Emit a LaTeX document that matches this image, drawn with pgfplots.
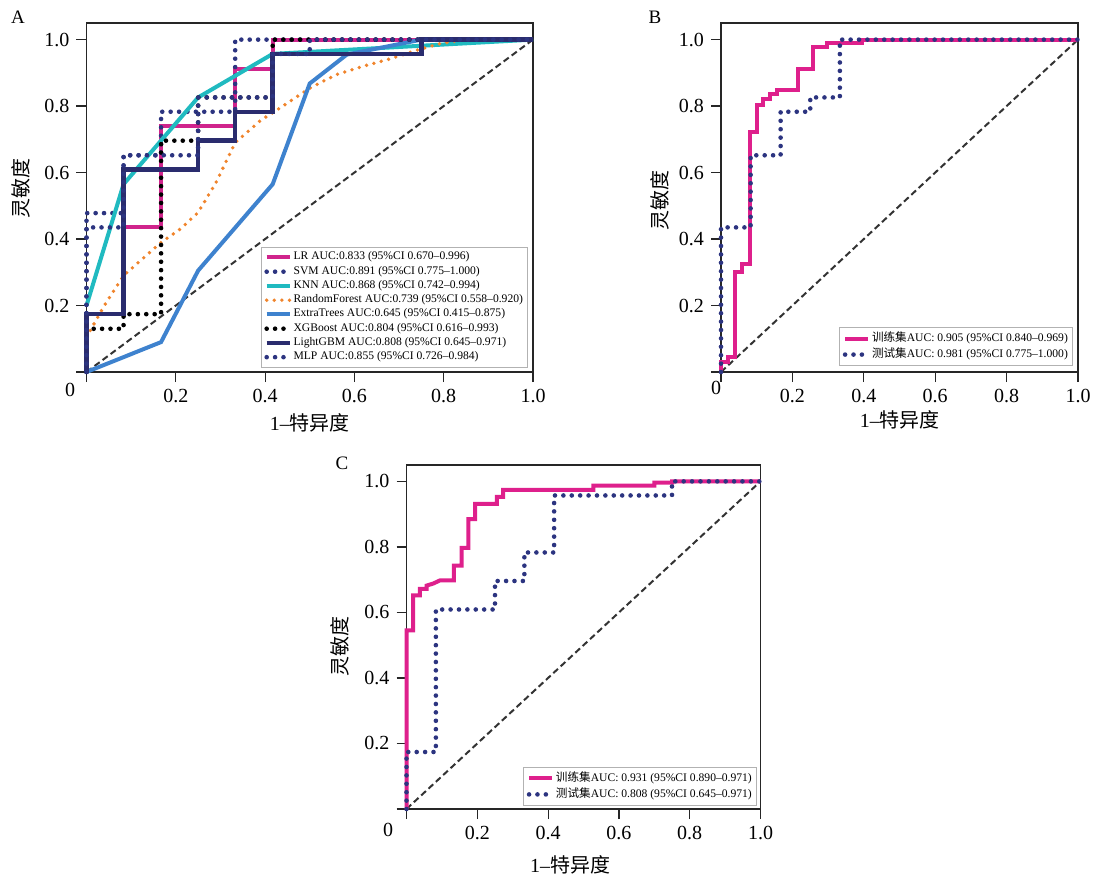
\documentclass[border=0pt]{standalone}
\usepackage{pgfplots}
\pgfplotsset{compat=1.18}
\usepackage{fontspec}
\setmainfont{Liberation Serif}
\newfontfamily\cjk{Noto Sans CJK SC}
\definecolor{lrmag}{RGB}{208,36,140}
\definecolor{navyd}{RGB}{44,52,128}
\definecolor{knncyan}{RGB}{32,186,192}
\definecolor{rforange}{RGB}{240,132,44}
\definecolor{etblue}{RGB}{62,130,206}
\definecolor{lgbm}{RGB}{42,44,110}
\definecolor{trainmag}{RGB}{222,32,140}
\pgfplotsset{
  rocaxis/.style={
    scale only axis,
    xmin=0, xmax=1, ymin=0, ymax=1.05,
    clip=false,
    tick pos=left, tick align=outside, major tick length=5pt,
    xtick={0,0.2,0.4,0.6,0.8,1}, xticklabels={,0.2,0.4,0.6,0.8,1.0},
    ytick={0,0.2,0.4,0.6,0.8,1}, yticklabels={,0.2,0.4,0.6,0.8,1.0},
    axis line style={black!85, line width=0.6pt},
    every tick/.style={black!85, line width=0.6pt},
    ticklabel style={font=\fontsize{10}{12}\selectfont},
    /pgf/number format/assume math mode=true,
    label style={font=\fontsize{10}{12}\selectfont},
    xlabel={1–{\cjk 特异度}},
    ylabel={{\cjk 灵敏度}},
    legend cell align=left,
    legend image code/.code={\draw[#1] (0pt,0pt) -- (11.5pt,0pt);},
  },
  solidln/.style={line width=2pt},
  dotln/.style={line width=2.3pt, dash pattern=on 0pt off 4.2pt, line cap=round},
  diag/.style={black!80, line width=1pt, dash pattern=on 3.2pt off 1.8pt, forget plot},
}
\begin{document}
\begin{tikzpicture}
\path[use as bounding box] (0,0) rectangle (548pt,439.5pt);
\node[font=\fontsize{9.5}{11}\selectfont] at (9pt,431pt) {A};
\node[font=\fontsize{9.5}{11}\selectfont] at (327.5pt,431pt) {B};
\node[font=\fontsize{9.5}{11}\selectfont] at (171pt,208pt) {C};

% ---------------- Panel A ----------------
\begin{axis}[rocaxis,
  at={(43.25pt,253.5pt)}, anchor=south west,
  width=223.25pt, height=174.5pt,
  xlabel style={at={(axis description cs:0.5,-0.146)}, anchor=center},
  ylabel style={at={(axis description cs:-0.147,0.527)}, anchor=center, rotate=0},
  legend style={at={(0.989,0.012)}, anchor=south east,
    font=\fontsize{5.8}{6.8}\selectfont, draw=black!30, line width=0.5pt,
    inner sep=1.5pt, nodes={inner sep=0.8pt}, row sep=0pt},
]
\addplot[diag] coordinates {(0,0)(1,1)};
\addplot[lrmag, solidln] coordinates {(0,0)(0,0.174)(0.083,0.174)(0.083,0.435)(0.167,0.435)(0.167,0.739)(0.333,0.739)(0.333,0.913)(0.417,0.913)(0.417,1)(1,1)};
\addlegendentry{LR AUC:0.833 (95\%CI 0.670–0.996)}
\addplot[navyd, dotln] coordinates {(0,0)(0,0.478)(0.083,0.478)(0.083,0.652)(0.167,0.652)(0.167,0.783)(0.333,0.783)(0.333,1)(1,1)};
\addlegendentry{SVM AUC:0.891 (95\%CI 0.775–1.000)}
\addplot[knncyan, solidln] coordinates {(0,0.2)(0.083,0.565)(0.25,0.826)(0.417,0.957)(1,1)};
\addlegendentry{KNN AUC:0.868 (95\%CI 0.742–0.994)}
\addplot[rforange, line width=1.9pt, dash pattern=on 0pt off 3.8pt, line cap=round] coordinates {(0,0.105)(0.04,0.2)(0.083,0.29)(0.125,0.34)(0.167,0.39)(0.21,0.43)(0.25,0.48)(0.29,0.57)(0.333,0.69)(0.39,0.757)(0.433,0.794)(0.5,0.854)(0.56,0.895)(0.62,0.92)(0.68,0.942)(0.732,0.965)(0.792,0.988)(0.85,1)(1,1)};
\addlegendentry{RandomForest AUC:0.739 (95\%CI 0.558–0.920)}
\addplot[etblue, solidln] coordinates {(0,0)(0.167,0.09)(0.25,0.305)(0.417,0.565)(0.5,0.868)(0.583,0.955)(0.75,1)(1,1)};
\addlegendentry{ExtraTrees AUC:0.645 (95\%CI 0.415–0.875)}
\addplot[black, dotln] coordinates {(0,0)(0,0.13)(0.083,0.13)(0.083,0.174)(0.167,0.174)(0.167,0.696)(0.25,0.696)(0.25,0.826)(0.417,0.826)(0.417,1)(1,1)};
\addlegendentry{XGBoost AUC:0.804 (95\%CI 0.616–0.993)}
\addplot[lgbm, line width=2.2pt] coordinates {(0,0)(0,0.174)(0.083,0.174)(0.083,0.609)(0.25,0.609)(0.25,0.696)(0.333,0.696)(0.333,0.783)(0.417,0.783)(0.417,0.957)(0.75,0.957)(0.75,1)(1,1)};
\addlegendentry{LightGBM AUC:0.808 (95\%CI 0.645–0.971)}
\addplot[navyd, dotln] coordinates {(0,0)(0,0.435)(0.083,0.435)(0.083,0.652)(0.25,0.652)(0.25,0.826)(0.417,0.826)(0.417,0.957)(0.5,0.957)(0.5,1)(1,1)};
\addlegendentry{MLP AUC:0.855 (95\%CI 0.726–0.984)}
\node[font=\fontsize{10}{12}\selectfont] at (axis cs:0,0) [xshift=-8.25pt, yshift=-9pt] {0};
\end{axis}

% ---------------- Panel B ----------------
\begin{axis}[rocaxis,
  at={(360.5pt,253.5pt)}, anchor=south west,
  width=178.5pt, height=174.5pt,
  xlabel style={at={(axis description cs:0.501,-0.138)}, anchor=center},
  ylabel style={at={(axis description cs:-0.171,0.49)}, anchor=center},
  legend style={at={(0.986,0.017)}, anchor=south east,
    font=\fontsize{5.8}{6.8}\selectfont, draw=black!30, line width=0.5pt,
    inner sep=1.5pt, nodes={inner sep=0.8pt}, row sep=0pt},
]
\addplot[diag] coordinates {(0,0)(1,1)};
\addplot[trainmag, solidln] coordinates {(0,0)(0,0.03)(0.02,0.03)(0.02,0.045)(0.04,0.045)(0.04,0.3)(0.058,0.3)(0.058,0.326)(0.081,0.326)(0.081,0.722)(0.1,0.722)(0.1,0.802)(0.119,0.802)(0.119,0.822)(0.137,0.822)(0.137,0.837)(0.156,0.837)(0.156,0.847)(0.217,0.847)(0.217,0.912)(0.259,0.912)(0.259,0.979)(0.296,0.979)(0.296,0.989)(0.394,0.989)(0.394,1)(1,1)};
\addlegendentry{{\cjk 训练集}AUC: 0.905 (95\%CI 0.840–0.969)}
\addplot[navyd, dotln] coordinates {(0,0)(0,0.435)(0.083,0.435)(0.083,0.652)(0.167,0.652)(0.167,0.783)(0.25,0.783)(0.25,0.826)(0.333,0.826)(0.333,1)(1,1)};
\addlegendentry{{\cjk 测试集}AUC: 0.981 (95\%CI 0.775–1.000)}
\node[font=\fontsize{10}{12}\selectfont] at (axis cs:0,0) [xshift=-2.5pt, yshift=-8pt] {0};
\end{axis}

% ---------------- Panel C ----------------
\begin{axis}[rocaxis,
  at={(203.25pt,35pt)}, anchor=south west,
  width=177pt, height=172pt,
  xlabel style={at={(axis description cs:0.462,-0.163)}, anchor=center},
  ylabel style={at={(axis description cs:-0.188,0.471)}, anchor=center},
  legend style={at={(0.99,0.009)}, anchor=south east,
    font=\fontsize{5.8}{6.8}\selectfont, draw=black!30, line width=0.5pt,
    inner sep=1.5pt, nodes={inner sep=0.8pt}, row sep=0pt},
]
\addplot[diag] coordinates {(0,0)(1,1)};
\addplot[trainmag, solidln] coordinates {(0,0)(0,0.545)(0.019,0.545)(0.019,0.652)(0.038,0.652)(0.038,0.672)(0.057,0.672)(0.057,0.682)(0.075,0.688)(0.095,0.698)(0.134,0.698)(0.134,0.743)(0.156,0.743)(0.156,0.797)(0.175,0.797)(0.175,0.885)(0.194,0.885)(0.194,0.931)(0.255,0.931)(0.255,0.953)(0.273,0.953)(0.273,0.974)(0.528,0.974)(0.528,0.987)(0.7,0.987)(0.7,0.996)(0.75,0.996)(0.75,1)(1,1)};
\addlegendentry{{\cjk 训练集}AUC: 0.931 (95\%CI 0.890–0.971)}
\addplot[navyd, dotln] coordinates {(0,0)(0,0.174)(0.083,0.174)(0.083,0.609)(0.25,0.609)(0.25,0.696)(0.333,0.696)(0.333,0.783)(0.417,0.783)(0.417,0.957)(0.75,0.957)(0.75,1)(1,1)};
\addlegendentry{{\cjk 测试集}AUC: 0.808 (95\%CI 0.645–0.971)}
\node[font=\fontsize{10}{12}\selectfont] at (axis cs:0,0) [xshift=-9.25pt, yshift=-10.5pt] {0};
\end{axis}
\end{tikzpicture}
\end{document}
